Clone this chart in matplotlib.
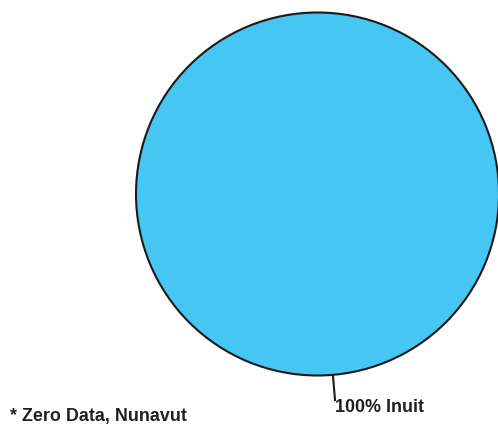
import matplotlib
matplotlib.use("Agg")
import matplotlib.pyplot as plt

categories = ["Inuit"]
values = [100]
colors = ["#45C6F3"]
note = "* Zero Data, Nunavut"

W, H = 498, 425
fig = plt.figure(figsize=(W / 100, H / 100), dpi=100)
cx, cy, r = 317.5, 194, 181.5
ax = fig.add_axes([(cx - r) / W, (H - cy - r) / H, 2 * r / W, 2 * r / H])
ax.pie(values, colors=colors, startangle=90, counterclock=False,
       wedgeprops=dict(edgecolor="#1a1a1a", linewidth=1.5))
ax.set_xlim(-1, 1)
ax.set_ylim(-1, 1)
ax.set_aspect("auto")
ax.axis("off")

def px(x, y):
    return ((x - cx) / r, -(y - cy) / r)

p0 = px(333, 376)
p1 = px(335, 400)
ax.plot([p0[0], p1[0]], [p0[1], p1[1]], color="#1a1a1a", lw=1.5, clip_on=False)
tx, ty = px(335, 408)
ax.text(tx, ty, f"{values[0]}% {categories[0]}", ha="left", va="center",
        fontsize=12.9, fontweight="bold", family="Liberation Sans",
        color="#231f20", clip_on=False)

fig.text(10 / W, 1 - 417 / H, note, ha="left", va="center", fontsize=12.9,
         fontweight="bold", family="Liberation Sans", color="#231f20")

fig.savefig("out.png", dpi=100)
